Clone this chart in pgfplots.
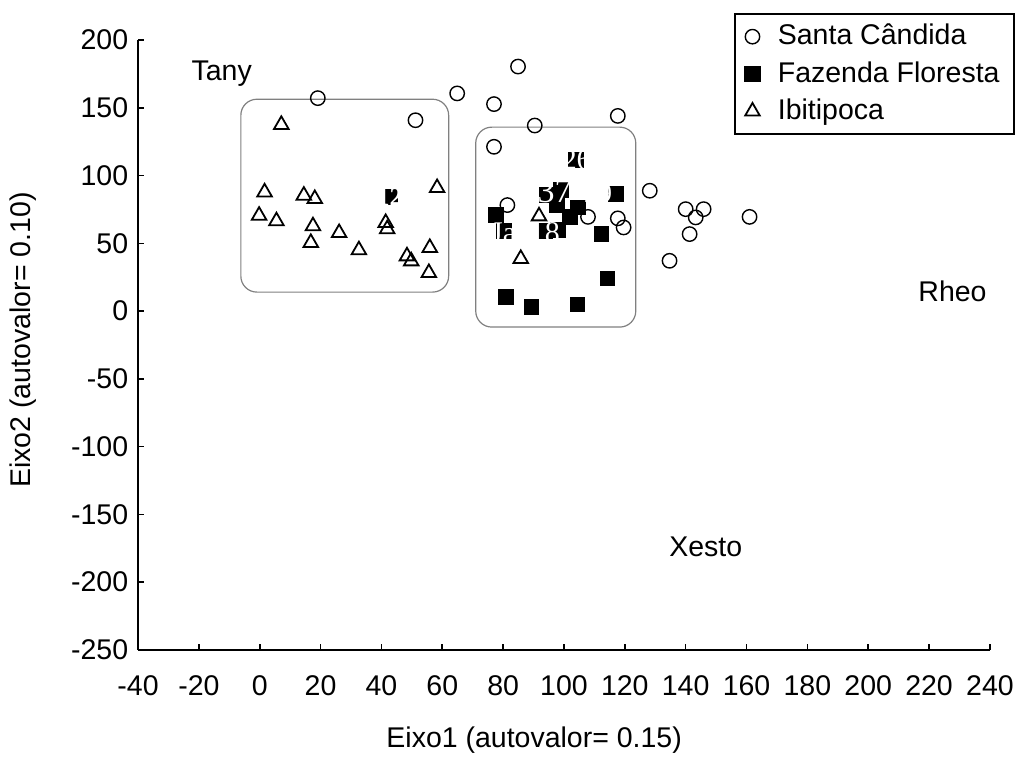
\documentclass[border=0pt]{standalone}
\usepackage{pgfplots}
\pgfplotsset{compat=1.18}
\usepackage{fontspec}
\setmainfont{Liberation Sans}
\newfontfamily\seriffont{Liberation Serif}
\begin{document}
\fontsize{14.25}{17}\selectfont
\begin{tikzpicture}
\begin{axis}[
  set layers,
  width=426pt, height=305pt, scale only axis,
  xmin=-40, xmax=240, ymin=-250, ymax=200,
  axis x line*=bottom, axis y line*=left,
  axis line style={line width=1pt},
  tick align=inside, major tick length=3pt,
  tick style={line width=0.8pt, black},
  xtick={-40,-20,...,240}, ytick={-250,-200,...,200},
  /pgf/number format/assume math mode=true,
  ticklabel style={font=\fontsize{14.25}{17}\selectfont},
  xticklabel style={yshift=-8pt},
  xlabel={Eixo1 (autovalor= 0.15)},
  ylabel={Eixo2 (autovalor= 0.10)},
  xlabel style={at={(rel axis cs:0.465,-0.148)}, anchor=center, font=\fontsize{14.25}{17}\selectfont},
  ylabel style={at={(rel axis cs:-0.135,0.508)}, anchor=center, rotate=0, font=\fontsize{14.25}{17}\selectfont},
  legend style={at={(rel axis cs:1.029,1.044)}, anchor=north east, draw=black, line width=1pt,
     font=\fontsize{14.25}{17}\selectfont, row sep=2.2pt, inner xsep=5pt, inner ysep=3pt,
     /tikz/every odd column/.append style={column sep=7pt}},
  legend cell align=left,
  clip=false,
]
% rounded boxes
\draw[gray, line width=0.6pt, rounded corners=8pt] (axis cs:-6.2,14) rectangle (axis cs:62.1,156.3);
\draw[gray, line width=0.6pt, rounded corners=8pt] (axis cs:71.0,-11.8) rectangle (axis cs:123.6,135.7);

\addplot[only marks, mark=o, mark size=3.6pt, mark options={line width=0.7pt, draw=black, fill=white}] coordinates {
(19.1,157.1) (51.2,140.8) (64.9,160.6) (77.0,152.7) (84.9,180.4) (90.4,136.9) (117.7,144.0)
(77.0,121.2) (81.4,78.2) (107.9,69.5) (117.7,68.4) (119.6,61.7)
(128.2,88.8) (140.0,75.2) (145.9,75.2) (143.3,69.1) (161.0,69.5) (141.3,56.8) (134.7,37.1)
};
\addlegendentry{Santa Cândida}

\addplot[only marks, mark=square*, mark size=3.7pt, mark options={draw=black, fill=black}] coordinates {
(103.8,111.7) (98.9,89.5) (94.3,86.0) (117.0,86.3) (77.6,70.8) (97.8,78.2) (104.6,76.5) (101.9,69.5)
(98.0,59.7) (112.3,56.8) (114.3,24.1) (80.8,10.5) (89.3,3.2) (104.4,4.9)
(42.7,84.4) (80.2,59.0) (93.7,59.0)
};
\addlegendentry{Fazenda Floresta}

\addplot[only marks, mark=triangle, mark size=4.2pt, mark options={line width=0.9pt, draw=black, fill=white}] coordinates {
(7.1,137.5) (1.6,87.7) (-0.2,70.5) (5.5,66.4) (14.5,85.3) (18.1,82.8) (17.5,62.7) (16.8,50.4)
(26.1,57.7) (32.6,45.0) (41.4,65.1) (41.9,60.5) (48.4,40.5) (49.8,36.8) (55.9,46.7) (55.6,28.2)
(58.3,90.9) (91.8,70.0) (85.8,38.6)
};
\addlegendentry{Ibitipoca}

% overlapping point labels (white, partly hidden)
\begin{pgfonlayer}{axis foreground}
\node[white, font=\seriffont\fontsize{13}{13}\selectfont\bfseries] at (axis cs:42.7,84.4) {12};
\node[white, font=\seriffont\fontsize{15}{15}\selectfont] at (axis cs:104.2,111.7) {26};
\node[white, font=\seriffont\fontsize{17}{17}\selectfont] at (axis cs:96.9,88.4) {37};
\node[white, font=\seriffont\fontsize{14}{14}\selectfont] at (axis cs:111.2,87.2) {29};
\node[white, font=\seriffont\fontsize{15}{15}\selectfont] at (axis cs:93.7,58.1) {18};
\node[white, font=\seriffont\fontsize{15}{15}\selectfont] at (axis cs:80.2,58.1) {Ja};
\end{pgfonlayer}

% group labels
\node at (axis cs:-12.5,175.5) {Tany};
\node at (axis cs:227.7,14.7) {Rheo};
\node at (axis cs:146.6,-174) {Xesto};

\coordinate (bbl) at (rel axis cs:-0.162,-0.1754);
\coordinate (btr) at (rel axis cs:1.040,1.0656);
\end{axis}
\pgfresetboundingbox
\path[use as bounding box] (bbl) rectangle (btr);
\end{tikzpicture}
\end{document}
